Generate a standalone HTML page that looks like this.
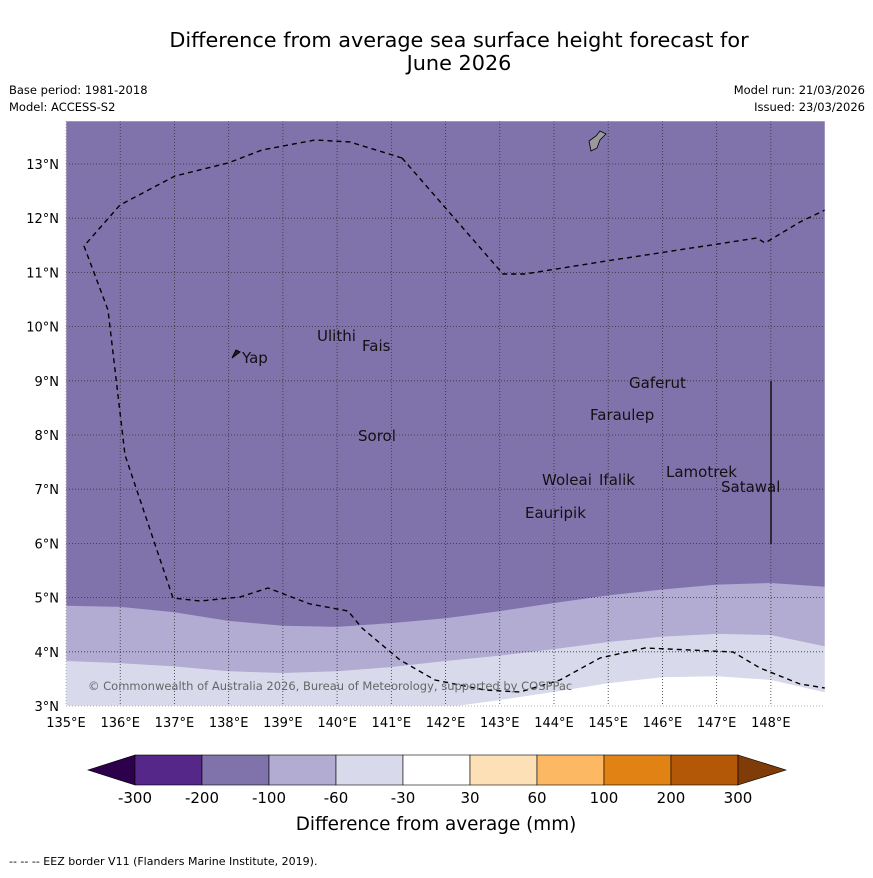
<!DOCTYPE html>
<html><head><meta charset="utf-8"><style>
body{margin:0;background:#fff;font-family:"Liberation Sans","DejaVu Sans",sans-serif}
</style></head><body>
<svg width="873" height="873" xmlns="http://www.w3.org/2000/svg" font-family="DejaVu Sans, Liberation Sans, sans-serif">
<rect width="873" height="873" fill="#fff"/>
<text x="459" y="47" font-size="20.8" text-anchor="middle">Difference from average sea surface height forecast for</text>
<text x="459" y="70" font-size="20.8" text-anchor="middle">June 2026</text>
<text x="9" y="94" font-size="11.5">Base period: 1981-2018</text>
<text x="9" y="111" font-size="11.5">Model: ACCESS-S2</text>
<text x="865" y="94" font-size="11.5" text-anchor="end">Model run: 21/03/2026</text>
<text x="865" y="111" font-size="11.5" text-anchor="end">Issued: 23/03/2026</text>
<defs><clipPath id="mc"><rect x="66" y="121" width="759" height="585"/></clipPath></defs>
<g id="map" clip-path="url(#mc)"></g>
<g id="axes"></g>
<g id="cbar"></g>
<text x="436" y="830" font-size="18.4" text-anchor="middle">Difference from average (mm)</text>
<text x="9" y="865" font-size="11">--  --  -- EEZ border V11 (Flanders Marine Institute, 2019).</text>
</svg>
<script>
const lonTicks=[135,136,137,138,139,140,141,142,143,144,145,146,147,148];
const latTicks=[3,4,5,6,7,8,9,10,11,12,13];
const contourLons=[135,136,137,138,139,140,141,142,143,144,145,146,147,148,149];
const edge200=[4.85,4.83,4.73,4.57,4.48,4.46,4.53,4.62,4.75,4.9,5.04,5.15,5.24,5.27,5.2];
const edge100=[3.83,3.79,3.73,3.64,3.61,3.64,3.72,3.83,3.93,4.05,4.18,4.28,4.33,4.31,4.1];
const edge60Lons=[142.2,143,144,145,146,147,148,149];
const edge60=[3.0,3.11,3.26,3.42,3.53,3.55,3.48,3.25];
const cbBounds=[-300,-200,-100,-60,-30,30,60,100,200,300];
const cbColors=["#542788","#8073ac","#b2abd2","#d8daeb","#ffffff","#fee0b6","#fdb863","#e08214","#b35806"];
const islands=[["Yap",242,363],["Ulithi",317,341],["Fais",362,351],["Gaferut",629,388],["Faraulep",590,420],["Sorol",358,441],["Lamotrek",666,477],["Woleai",542,485],["Ifalik",599,485],["Satawal",721,492],["Eauripik",525,518]];
const eezA=[[402,158],[350,142],[315,140],[262,150],[228,163],[175,176],[120,205],[84,246],[108,310],[125,455],[173,598],[200,601],[240,597],[268,588],[310,604],[348,611],[362,628],[400,660],[435,680],[485,690],[520,692],[560,680],[600,658],[645,648],[690,650],[733,652],[760,668],[800,684],[825,688]];
const eezB=[[402,158],[503,274],[525,274],[600,262],[757,238],[765,243],[800,222],[825,210]];
const X=l=>66+(l-135)*54.22, Y=t=>706-(t-3)*54.2;
const NS="http://www.w3.org/2000/svg";
function mk(p,tag,a){const e=document.createElementNS(NS,tag);for(const k in a)e.setAttribute(k,a[k]);p.appendChild(e);return e;}
const map=document.getElementById('map');
let r=mk(map,'rect',{x:66,y:121,width:759,height:585,fill:'#8073ac'});


function band(lons,vals,fill,name){let d='M'+X(lons[0])+','+Y(vals[0]);for(let i=1;i<lons.length;i++)d+='L'+X(lons[i])+','+Y(vals[i]);d+='L'+X(lons[lons.length-1])+',720L'+X(lons[0])+',720Z';const p=mk(map,'path',{d:d,fill:fill});

}
band(contourLons,edge200,'#b2abd2','region-minus100');
band(contourLons,edge100,'#d8daeb','region-minus60');
band(edge60Lons,edge60,'#ffffff','region-minus30');
const ax=document.getElementById('axes');
lonTicks.forEach(l=>{const ln=mk(ax,'line',{x1:X(l),x2:X(l),y1:121,y2:706,stroke:'#333','stroke-width':0.8,'stroke-dasharray':'1,2'});


const t=mk(ax,'text',{x:X(l),y:727,'font-size':13,'text-anchor':'middle'});t.textContent=l+'°E';

});
latTicks.forEach(l=>{const ln=mk(ax,'line',{x1:66,x2:825,y1:Y(l),y2:Y(l),stroke:'#333','stroke-width':0.8,'stroke-dasharray':'1,2'});


const t=mk(ax,'text',{x:59,y:Y(l)+5,'font-size':13,'text-anchor':'end'});t.textContent=l+'°N';

});
[eezA,eezB].forEach(pts=>{const p=mk(ax,'polyline',{points:pts.map(q=>q.join(',')).join(' '),fill:'none',stroke:'#000','stroke-width':1.4,'stroke-dasharray':'5,4'});

});
let vl=mk(ax,'line',{x1:771,x2:771,y1:381,y2:544,stroke:'#111','stroke-width':1.5});


let g=mk(ax,'path',{d:'M589,141L596,136L600,131L606,134L600,140L597,148L591,151Z',fill:'#999',stroke:'#000','stroke-width':0.8});


let yp=mk(ax,'path',{d:'M232,358L236,350L240,352Z',fill:'#222',stroke:'#000','stroke-width':1});


islands.forEach(s=>{const t=mk(ax,'text',{x:s[1],y:s[2],'font-size':15,fill:'#111'});t.textContent=s[0];

});
let c=mk(ax,'text',{x:88,y:690,'font-size':11.5,fill:'#666'});c.textContent='© Commonwealth of Australia 2026, Bureau of Meteorology, supported by COSPPac';


let fr=mk(ax,'rect',{x:66,y:121,width:759,height:585,fill:'none',stroke:'#fff','stroke-width':0.5});


const cb=document.getElementById('cbar');
const cx0=135,cw=67.0,cy=755,ch=30;
let lo=mk(cb,'path',{d:`M${cx0},${cy}L88,${cy+ch/2}L${cx0},${cy+ch}Z`,fill:'#2d004b',stroke:'#000','stroke-width':0.6});


cbColors.forEach((col,i)=>{const rr=mk(cb,'rect',{x:cx0+i*cw,y:cy,width:cw,height:ch,fill:col,stroke:'#000','stroke-width':0.6});

});
const xe=cx0+cbColors.length*cw;
let hi=mk(cb,'path',{d:`M${xe},${cy}L786,${cy+ch/2}L${xe},${cy+ch}Z`,fill:'#7f3b08',stroke:'#000','stroke-width':0.6});


cbBounds.forEach((b,i)=>{const t=mk(cb,'text',{x:cx0+i*cw,y:803,'font-size':15,'text-anchor':'middle'});t.textContent=b;

});
</script>
</body></html>
